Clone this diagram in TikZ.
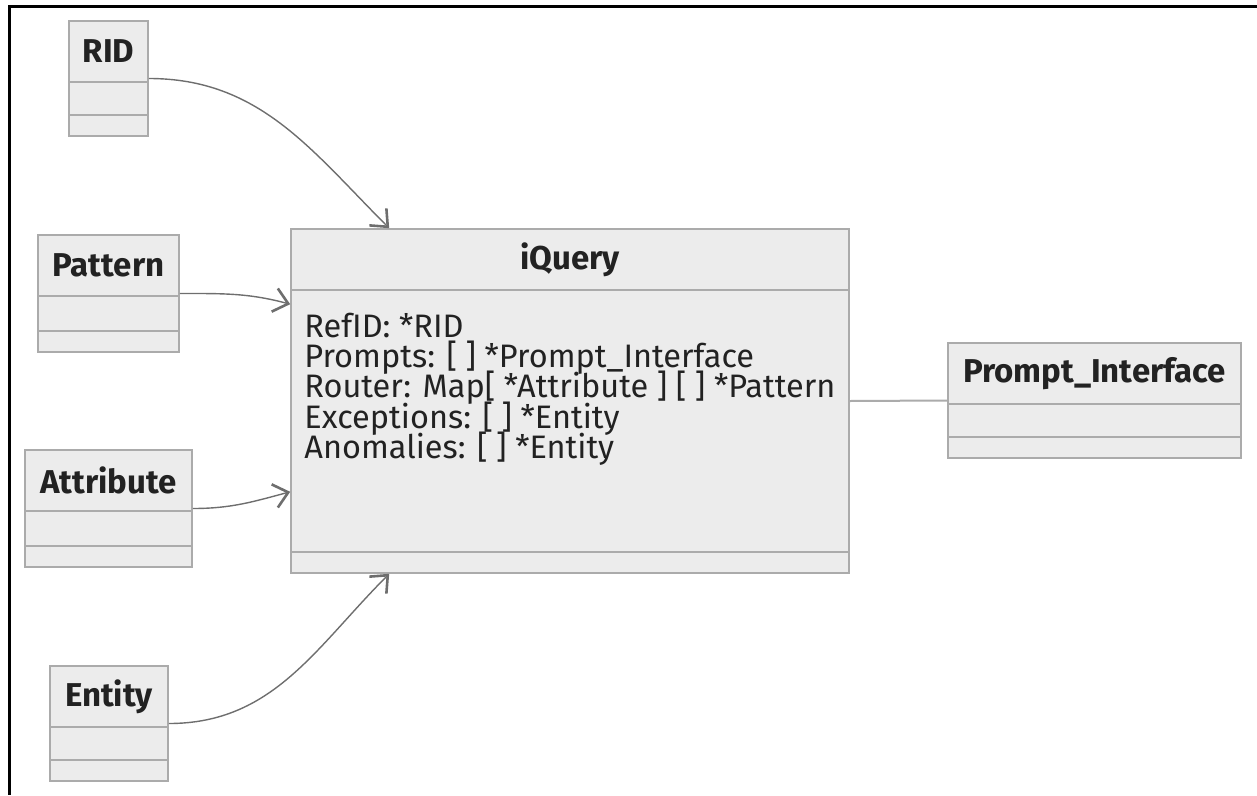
\documentclass[tikz,border=0pt]{standalone}
\usepackage{fontspec}
\setmainfont{Fira Sans}
\usetikzlibrary{positioning}
\usetikzlibrary{arrows.meta}

\definecolor{boxfill}{HTML}{ECECEC}
\definecolor{boxline}{HTML}{ABABAB}
\definecolor{linkgray}{HTML}{6E6E6E}
\definecolor{textdark}{HTML}{222222}

\newcommand{\memberfont}{\fontsize{32.5}{30.3}\selectfont\lineskiplimit=-40pt\relax}

\tikzset{
  classbox/.style={draw=boxline, fill=boxfill, line width=1.6pt, inner sep=0pt},
  classtitle/.style={font=\fontsize{33}{38}\selectfont\bfseries, text=textdark,
    minimum height=62, inner sep=0pt},
  divider/.style={draw=boxline, line width=1.6pt},
  members/.style={font=\memberfont, text=textdark, align=left, inner sep=0pt},
  link/.style={draw=linkgray, line width=1.4pt,
    -{Straight Barb[length=14pt,width=24pt,line width=2.6pt]}},
  plainlink/.style={draw=boxline, line width=2pt},
}

\begin{document}
\begin{tikzpicture}[x=1pt, y=-1pt]
  \useasboundingbox (0,0) rectangle (1257,795);

  % Frame
  \draw[line width=3pt] (1257,6) -- (9,6) -- (9,795);

  % Classes on the left
  \node[classbox, minimum width=79, minimum height=115] (rid) at (108.5,78.5) {};
  \node[classbox, minimum width=141, minimum height=117] (pattern) at (108.5,293.5) {};
  \node[classbox, minimum width=167, minimum height=117] (attribute) at (108.5,508.5) {};
  \node[classbox, minimum width=118, minimum height=115] (entity) at (109,723.5) {};

  % Main class and the interface
  \node[classbox, minimum width=558, minimum height=344] (iquery) at (570,401) {};
  \node[classbox, minimum width=293, minimum height=115] (prompt) at (1094.5,400.5) {};

  % Compartment lines
  \foreach \c in {rid,pattern,attribute,entity,iquery,prompt}{
    \draw[divider] ([yshift=-62pt]\c.north west) -- ([yshift=-62pt]\c.north east);
    \draw[divider] ([yshift=22pt]\c.south west) -- ([yshift=22pt]\c.south east);
  }

  % Class names
  \node[classtitle, below=0pt of rid.north] (rid-title) {RID};
  \node[classtitle, below=0pt of pattern.north] (pattern-title) {Pattern};
  \node[classtitle, below=0pt of attribute.north] (attribute-title) {Attribute};
  \node[classtitle, below=0pt of entity.north] (entity-title) {Entity};
  \node[classtitle, below=0pt of iquery.north] (iquery-title) {iQuery};
  \node[classtitle, below=0pt of prompt.north] (prompt-title) {Prompt\_Interface};

  % Fields of iQuery
  \node[members, right=14pt of iquery.west, yshift=12pt] (iquery-members) {%
    RefID: *RID\\
    Prompts: [ ] *Prompt\_Interface\\
    Router: Map[ *Attribute ] [ ] *Pattern\\
    Exceptions: [ ] *Entity\\
    Anomalies: [ ] *Entity};

  % Links
  \draw[link] (rid.east) to[out=0, in=135] ([xshift=99pt]iquery.north west);
  \draw[link] (pattern.east) to[out=0, in=165] ([yshift=-76pt]iquery.north west);
  \draw[link] (attribute.east) to[out=0, in=195] ([yshift=82pt]iquery.south west);
  \draw[link] (entity.east) to[out=0, in=225] ([xshift=99pt]iquery.south west);
  \draw[plainlink] (iquery.east) -- (prompt.west);
\end{tikzpicture}
\end{document}
